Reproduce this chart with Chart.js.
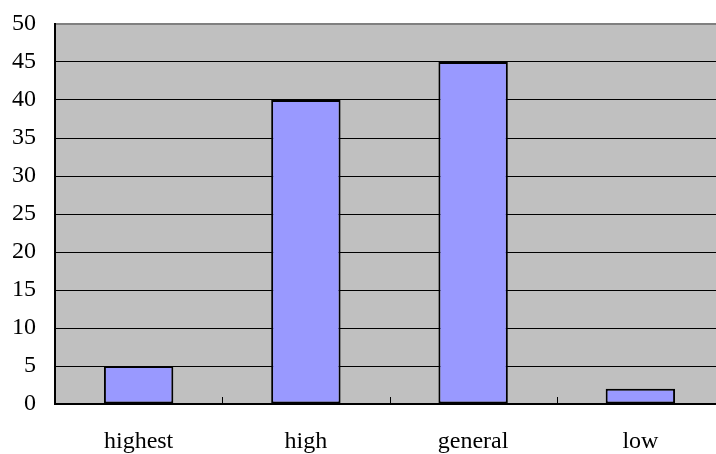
<!DOCTYPE html>
<html>
<head>
<meta charset="utf-8">
<script src="https://cdn.jsdelivr.net/npm/chart.js@4/dist/chart.umd.min.js"></script>
<style>
  html, body { margin: 0; padding: 0; background: #fff; overflow: hidden; }
  #wrap { width: 716px; height: 454px; overflow: hidden; }
  #box { width: 724px; height: 454px; }
</style>
</head>
<body>
<div id="wrap"><div id="box"><canvas id="chart"></canvas></div></div>
<script>
// chart values
var categories = ["highest", "high", "general", "low"];
var values = [5, 40, 45, 2];
var yMin = 0, yMax = 50, yStep = 5;

// grey plot area
var plotBg = {
  id: "plotBg",
  beforeDraw: function(chart) {
    var a = chart.chartArea, ctx = chart.ctx;
    ctx.save();
    ctx.fillStyle = "#c0c0c0";
    ctx.fillRect(a.left, a.top, a.right - a.left, a.bottom - a.top);
    ctx.restore();
  }
};

// small inward ticks between categories on the x axis
var innerTicks = {
  id: "innerTicks",
  afterDatasetsDraw: function(chart) {
    var x = chart.scales.x, ctx = chart.ctx, a = chart.chartArea;
    ctx.save();
    ctx.strokeStyle = "#000";
    ctx.lineWidth = 1;
    for (var i = 1; i < categories.length; i++) {
      var px = Math.round((x.getPixelForValue(i - 1) + x.getPixelForValue(i)) / 2) + 0.5;
      ctx.beginPath();
      ctx.moveTo(px, a.bottom);
      ctx.lineTo(px, a.bottom - 7);
      ctx.stroke();
    }
    ctx.restore();
  }
};

new Chart(document.getElementById("chart"), {
  type: "bar",
  data: {
    labels: categories,
    datasets: [{
      data: values,
      backgroundColor: "#9999ff",
      borderColor: "#000",
      borderWidth: 2,
      borderSkipped: false,
      categoryPercentage: 1,
      barPercentage: 0.415
    }]
  },
  options: {
    responsive: true,
    maintainAspectRatio: false,
    animation: false,
    layout: { padding: 0 },
    plugins: { legend: { display: false }, tooltip: { enabled: false } },
    scales: {
      x: {
        grid: { display: false },
        border: { color: "#000", width: 2 },
        ticks: {
          color: "#000",
          padding: 15,
          font: { family: "Liberation Serif", size: 24 }
        },
        afterFit: function(s) { s.height = 50; }
      },
      y: {
        min: yMin,
        max: yMax,
        grid: {
          drawTicks: false,
          color: function(c) { return c.tick && c.tick.value === yMax ? "#808080" : "#000"; },
          lineWidth: function(c) { return c.tick && c.tick.value === yMax ? 2 : 1; }
        },
        border: { color: "#000", width: 2 },
        ticks: {
          stepSize: yStep,
          color: "#000",
          padding: 19,
          font: { family: "Liberation Serif", size: 24 }
        },
        afterFit: function(s) { s.width = 55; s.paddingTop = 24; s.paddingBottom = 0; }
      }
    }
  },
  plugins: [plotBg, innerTicks]
});
</script>
</body>
</html>
